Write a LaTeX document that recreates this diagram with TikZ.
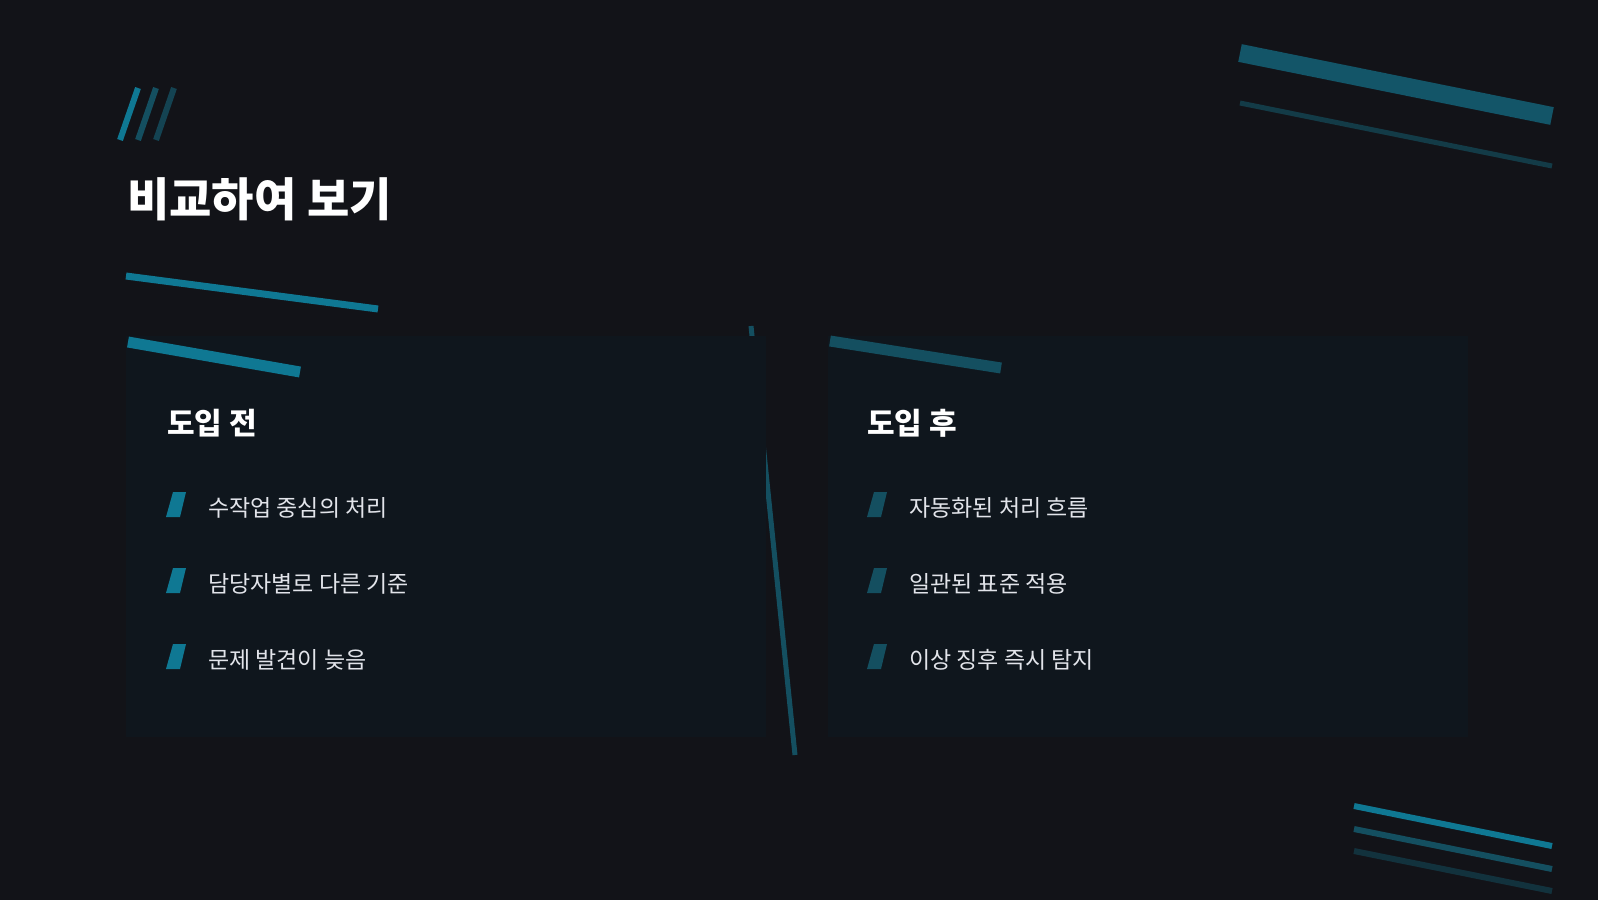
\documentclass[tikz,border=0pt]{standalone}
\usepackage{fontspec}
\newfontfamily\krfont{Noto Sans CJK KR}
\definecolor{bgdark}{HTML}{121318}
\definecolor{carddark}{HTML}{0F161D}
\definecolor{cyanbar}{HTML}{0F7893}
\definecolor{midbar}{HTML}{144F60}
\definecolor{lowbar}{HTML}{12323D}
\definecolor{txtlight}{HTML}{E2E4EA}
\tikzset{
  card/.style={fill=carddark, draw=none},
  bar/.style={line width=#1, line cap=butt},
  heading/.style={anchor=west, inner sep=0pt, text=white, font=\krfont\bfseries\fontsize{30}{34}\selectfont},
  item/.style={anchor=west, inner sep=0pt, text=txtlight, font=\krfont\fontsize{23}{27}\selectfont},
}
\begin{document}
\begin{tikzpicture}[x=1pt,y=-1pt]
\fill[bgdark] (0,0) rectangle (1598,900);
\useasboundingbox (0,0) rectangle (1598,900);

% slashes above title
\draw[bar=6pt, cyanbar] (120,140) -- (138,88);
\draw[bar=6pt, midbar] (138,140) -- (156,88);
\draw[bar=6pt, midbar!80!bgdark] (156,140) -- (174,88);
\node[anchor=west, inner sep=0pt, text=white, font=\krfont\bfseries\fontsize{46}{50}\selectfont] (title) at (127,199) {비교하여 보기};
\draw[bar=7pt, cyanbar] (126,276) -- (378,309);

% top right bars
\draw[bar=18pt, midbar!85!cyanbar] (1240,53) -- (1552,116);
\draw[bar=5pt, lowbar!70!midbar] (1240,103) -- (1552,166);

% divider behind cards
\draw[bar=5pt, midbar] (751,326) -- (795,755);

% cards
\fill[card] (126,336) rectangle (766,737);
\fill[card] (828,336) rectangle (1468,737);
\draw[bar=11pt, cyanbar] (128,342) -- (300,372);
\draw[bar=11pt, midbar] (830,341) -- (1001,368);

\node[heading] (before) at (167,423) {도입 전};
\node[heading] (after) at (867,423) {도입 후};

\foreach \y/\txt [count=\i] in {508/수작업 중심의 처리, 584/담당자별로 다른 기준, 660/문제 발견이 늦음}{
  \fill[cyanbar] (173,492+\y-508) -- (186,492+\y-508) -- (180,517+\y-508) -- (166,517+\y-508) -- cycle;
  \node[item] (b\i) at (208,\y) {\txt};
}
\foreach \y/\txt [count=\i] in {508/자동화된 처리 흐름, 584/일관된 표준 적용, 660/이상 징후 즉시 탐지}{
  \fill[midbar] (874,492+\y-508) -- (887,492+\y-508) -- (881,517+\y-508) -- (867,517+\y-508) -- cycle;
  \node[item] (a\i) at (909,\y) {\txt};
}

% bottom right bars
\draw[bar=6pt, cyanbar] (1354,806) -- (1552,846);
\draw[bar=6pt, midbar] (1354,829) -- (1552,869);
\draw[bar=6pt, lowbar] (1354,851) -- (1552,891);
\end{tikzpicture}
\end{document}
